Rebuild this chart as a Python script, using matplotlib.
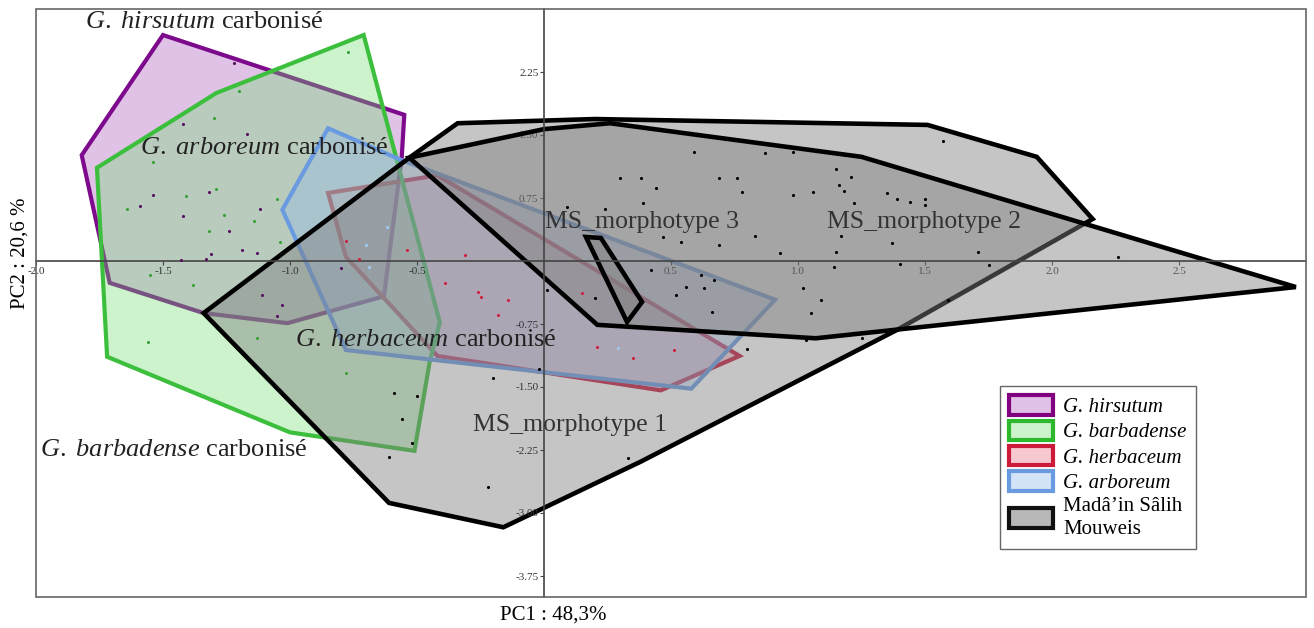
import matplotlib
matplotlib.use("Agg")
import matplotlib.pyplot as plt
from matplotlib.patches import Patch, Rectangle
from matplotlib.colors import to_rgba

plt.rcParams['font.family'] = 'Liberation Serif'
plt.rcParams['mathtext.fontset'] = 'custom'
plt.rcParams['mathtext.rm'] = 'Liberation Serif'
plt.rcParams['mathtext.it'] = 'Liberation Serif:italic'

# convex hulls (PC1, PC2)
hirsutum_x = [-1.50, -0.55, -0.56, -0.63, -1.01, -1.34, -1.71, -1.82]
hirsutum_y = [2.69, 1.74, 1.24, -0.42, -0.74, -0.62, -0.26, 1.26]
barbadense_x = [-0.71, -0.41, -0.45, -0.51, -1.00, -1.72, -1.76, -1.29]
barbadense_y = [2.69, -0.73, -1.20, -2.26, -2.04, -1.14, 1.11, 2.00]
herbaceum_x = [-0.85, -0.42, 0.77, 0.46, -0.42, -0.78]
herbaceum_y = [0.81, 1.02, -1.13, -1.54, -1.13, 0.05]
arboreum_x = [-0.85, -0.56, 0.91, 0.58, -0.78, -1.03]
arboreum_y = [1.58, 1.20, -0.46, -1.52, -1.06, 0.61]
ms1_x = [-1.34, -0.53, -0.34, 0.20, 1.51, 1.94, 2.16, 1.39, 0.38, -0.16, -0.61]
ms1_y = [-0.62, 1.23, 1.64, 1.69, 1.62, 1.24, 0.50, -0.82, -2.39, -3.17, -2.88]
ms2_x = [-0.53, 0.00, 0.26, 1.25, 2.96, 1.07, 0.21]
ms2_y = [1.23, 1.57, 1.64, 1.24, -0.31, -0.92, -0.76]
ms3_x = [0.165, 0.224, 0.386, 0.327]
ms3_y = [0.286, 0.274, -0.488, -0.726]

# individual specimens
pts_hirsutum_x = [-1.22, -1.42, -1.17, -1.54, -1.59, -1.32, -1.42, -1.12, -1.24, -1.19,
                  -1.13, -1.31, -1.33, -1.43, -1.11, -1.03, -1.05, -0.80]
pts_hirsutum_y = [2.36, 1.63, 1.51, 0.79, 0.65, 0.82, 0.54, 0.62, 0.36, 0.13,
                  0.10, 0.08, 0.02, 0.01, -0.40, -0.52, -0.65, -0.08]
pts_barbadense_x = [-0.77, -1.20, -1.30, -1.54, -1.41, -1.29, -1.64, -1.26, -1.14, -1.32,
                    -1.05, -1.04, -1.38, -1.55, -1.56, -1.13, -0.78]
pts_barbadense_y = [2.49, 2.02, 1.70, 1.18, 0.77, 0.86, 0.62, 0.55, 0.48, 0.36,
                    0.74, 0.23, -0.29, -0.17, -0.96, -0.92, -1.33]
pts_herbaceum_x = [-0.54, -0.73, -0.78, -0.26, -0.25, -0.14, -0.18, -0.39, -0.31, 0.21,
                   0.35, 0.51, 0.15]
pts_herbaceum_y = [0.13, 0.02, 0.24, -0.37, -0.43, -0.46, -0.64, -0.26, 0.07, -1.02,
                   -1.15, -1.06, -0.38]
pts_arboreum_x = [-0.70, -0.69, 0.29, -0.62]
pts_arboreum_y = [0.19, -0.07, -1.04, 0.40]
pts_ms_x = [0.59, 0.87, 0.98, 1.57, 0.30, 0.38, 0.44, 0.69, 0.76, 0.78, 1.15, 1.21, 1.16,
            1.18, 0.98, 1.06, 1.35, 1.39, 1.44, 1.50, 1.50, 0.39, 1.22, 0.24, 0.09, 0.47,
            0.54, 0.83, 0.69, 1.17, 1.37, 0.93, 1.15, 1.71, 1.40, 1.14, 1.75, 0.42, 0.62,
            0.67, 0.56, 0.63, 1.02, 0.52, 1.09, 0.20, 0.66, 1.05, 1.03, 1.25, 1.59, 0.80,
            0.01, -0.02, -0.20, -0.59, -0.50, -0.56, -0.52, -0.61, -0.22, 0.33, 2.26]
pts_ms_y = [1.30, 1.29, 1.30, 1.43, 0.99, 0.99, 0.87, 0.99, 0.99, 0.82, 1.10, 1.00, 0.90,
            0.83, 0.79, 0.82, 0.81, 0.74, 0.70, 0.74, 0.67, 0.69, 0.69, 0.62, 0.64, 0.29,
            0.23, 0.30, 0.19, 0.30, 0.21, 0.10, 0.11, 0.11, -0.04, -0.07, -0.05, -0.11, -0.17,
            -0.23, -0.31, -0.32, -0.32, -0.40, -0.46, -0.44, -0.61, -0.62, -0.94, -0.92, -0.46, -1.05,
            -0.35, -1.29, -1.39, -1.57, -1.61, -1.88, -2.17, -2.33, -2.69, -2.35, 0.05]

xtick_vals = [-2.0, -1.5, -1.0, -0.5, 0.5, 1.0, 1.5, 2.0, 2.5]
xtick_labels = ["-2.0", "-1.5", "-1.0", "-0.5", "0.5", "1.0", "1.5", "2.0", "2.5"]
ytick_vals = [2.25, 1.50, 0.75, -0.75, -1.50, -2.25, -3.00, -3.75]
ytick_labels = ["2.25", "1.50", "0.75", "-0.75", "-1.50", "-2.25", "-3.00", "-3.75"]

legend_labels = ["G. hirsutum", "G. barbadense", "G. herbaceum", "G. arboreum",
                 "Madâ’in Sâlih\nMouweis"]

fig = plt.figure(figsize=(13.14, 6.28), dpi=100)
ax = fig.add_axes([36 / 1314, 31 / 628, 1270 / 1314, 588 / 628])
ax.set_xlim(-2.0, 3.0)
ax.set_ylim(-4.0, 3.0)

groups = [
    (hirsutum_x, hirsutum_y, '#b060c0', 0.38, '#7d0a8c', 1.1),
    (herbaceum_x, herbaceum_y, '#e07090', 0.35, '#c8173c', 1.2),
    (barbadense_x, barbadense_y, '#70dd70', 0.35, '#3cbf3c', 1.3),
    (arboreum_x, arboreum_y, '#90b8f0', 0.35, '#6a9ae0', 1.4),
]
for hx, hy, fc, a, ec, z in groups:
    ax.fill(hx, hy, facecolor=to_rgba(fc, a), edgecolor=ec, lw=3.0,
            joinstyle='miter', zorder=z)

for hx, hy, z in [(ms1_x, ms1_y, 1.5), (ms2_x, ms2_y, 1.6), (ms3_x, ms3_y, 1.7)]:
    ax.fill(hx, hy, facecolor=to_rgba('#808080', 0.45), edgecolor='black', lw=3.3,
            joinstyle='miter', zorder=z)

ax.scatter(pts_hirsutum_x, pts_hirsutum_y, s=5, c='#5a1060', lw=0, zorder=3)
ax.scatter(pts_barbadense_x, pts_barbadense_y, s=5, c='#3aa03a', lw=0, zorder=3)
ax.scatter(pts_herbaceum_x, pts_herbaceum_y, s=5, c='#d02040', lw=0, zorder=3)
ax.scatter(pts_arboreum_x, pts_arboreum_y, s=5, c='#a0c8f0', lw=0, zorder=3)
ax.scatter(pts_ms_x, pts_ms_y, s=5, c='black', lw=0, zorder=3)

# group labels
ax.text(-1.807, 2.845, r'$\mathit{G.\ hirsutum}$ carbonisé', fontsize=19, va='center', color='#222')
ax.text(-1.59, 1.345, r'$\mathit{G.\ arboreum}$ carbonisé', fontsize=19, va='center', color='#222')
ax.text(-0.98, -0.94, r'$\mathit{G.\ herbaceum}$ carbonisé', fontsize=19, va='center', color='#222')
ax.text(-1.984, -2.25, r'$\mathit{G.\ barbadense}$ carbonisé', fontsize=19, va='center', color='#222')
ax.text(-0.28, -1.95, 'MS_morphotype 1', fontsize=18.5, va='center', color='#333')
ax.text(0.004, 0.46, 'MS_morphotype 3', fontsize=18.5, va='center', color='#333')
ax.text(1.114, 0.46, 'MS_morphotype 2', fontsize=18.5, va='center', color='#333')

# axes through the origin + outer frame
for side in ['top', 'right']:
    ax.spines[side].set_visible(False)
for side in ['left', 'bottom']:
    ax.spines[side].set_position(('data', 0))
    ax.spines[side].set_color('#444')
    ax.spines[side].set_linewidth(1.2)
ax.add_patch(Rectangle((0, 0), 1, 1, transform=ax.transAxes, fill=False,
                       ec='#666', lw=1.2, clip_on=False, zorder=10))

ax.set_xticks(xtick_vals, xtick_labels)
ax.set_yticks(ytick_vals, ytick_labels)
ax.tick_params(axis='both', direction='out', length=3, width=0.8, color='#444',
               labelsize=8, labelcolor='#333', pad=1)

handles = [
    Patch(facecolor='#e0c0e6', edgecolor='#800080', lw=3),
    Patch(facecolor='#ccf3cc', edgecolor='#2db82d', lw=3),
    Patch(facecolor='#f8c8d0', edgecolor='#cc1a3a', lw=3),
    Patch(facecolor='#d4e4f8', edgecolor='#6a9be0', lw=3),
    Patch(facecolor='#b8b8b8', edgecolor='#111111', lw=3),
]
leg = ax.legend(handles, legend_labels, loc='upper left', bbox_to_anchor=(0.759, 0.359),
                fontsize=15, frameon=True, fancybox=False, framealpha=1, edgecolor='#666',
                handlelength=2.1, handleheight=1.05, handletextpad=0.5, labelspacing=0.17,
                borderpad=0.45, borderaxespad=0)
leg.get_frame().set_linewidth(1.0)
leg.set_zorder(11)
texts = leg.get_texts()
for t in texts[:4]:
    t.set_fontstyle('italic')
texts[4].set_linespacing(1.35)

fig.text(0.4212, 0.0207, 'PC1 : 48,3%', ha='center', va='center', fontsize=15)
fig.text(20 / 1314, 1 - 253 / 628, 'PC2 : 20,6 %', rotation=90, ha='center', va='center', fontsize=15)

fig.savefig('out.png', dpi=100)
